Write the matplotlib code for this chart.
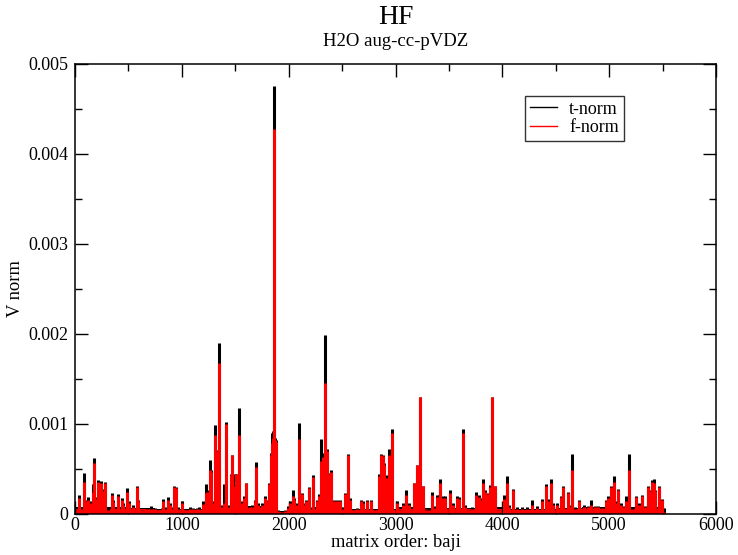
import numpy as np
import matplotlib
matplotlib.use("Agg")
import matplotlib.pyplot as plt
from matplotlib.ticker import MultipleLocator
from matplotlib.lines import Line2D

plt.rcParams['font.family'] = ['Liberation Serif', 'DejaVu Serif']

# spike positions (matrix order index) and heights
spike_x = [37, 60, 84, 103, 125, 150, 172, 181, 196, 212, 228, 243, 258, 281, 312, 343, 359, 399, 437, 452,
           484, 509, 546, 578, 593, 624, 671, 708, 748, 771, 811, 821, 843, 868, 890, 908, 930, 946, 967, 1005,
           1046, 1077, 1108, 1139, 1161, 1202, 1224, 1240, 1264, 1274, 1289, 1311, 1326, 1348, 1373, 1395, 1411, 1430, 1457, 1473,
           1498, 1508, 1539, 1561, 1583, 1598, 1639, 1661, 1686, 1695, 1717, 1755, 1780, 1795, 1820, 1832, 1842, 1851, 1860, 1872,
           1881, 1903, 1935, 1966, 1997, 2013, 2038, 2050, 2075, 2094, 2113, 2128, 2144, 2166, 2191, 2210, 2231, 2250, 2269, 2281,
           2300, 2313, 2325, 2341, 2356, 2381, 2394, 2422, 2453, 2484, 2500, 2528, 2556, 2575, 2606, 2637, 2675, 2700, 2731, 2768,
           2809, 2849, 2865, 2880, 2893, 2912, 2925, 2940, 2971, 3010, 3040, 3070, 3096, 3130, 3160, 3177, 3199, 3214, 3230, 3255,
           3290, 3310, 3345, 3365, 3386, 3405, 3418, 3440, 3468, 3511, 3542, 3574, 3599, 3630, 3655, 3690, 3720, 3751, 3780, 3800,
           3817, 3835, 3860, 3880, 3901, 3932, 3962, 4011, 4042, 4067, 4104, 4135, 4182, 4230, 4276, 4323, 4370, 4407, 4430, 4454,
           4478, 4510, 4550, 4566, 4610, 4630, 4653, 4680, 4713, 4760, 4800, 4831, 4870, 4900, 4935, 4972, 4990, 5016, 5047, 5070,
           5087, 5110, 5135, 5159, 5190, 5215, 5253, 5275, 5306, 5335, 5368, 5383, 5399, 5415, 5430, 5462, 5490, 5515]

t_norm = [0.00021, 0.00008, 0.00046, 0.00016, 0.00019, 0.00014, 0.00033, 0.00062, 0.00019, 0.00038, 0.00018, 0.00037, 0.00028, 0.00036, 0.00007, 0.00023, 0.00016, 0.00022, 0.00018, 0.00012,
          0.00029, 0.00014, 0.00010, 0.00031, 0.00016, 0.00005, 0.00007, 0.00009, 0.00007, 0.00005, 0.00007, 0.00017, 0.00008, 0.00019, 0.00012, 0.00008, 0.00031, 0.00030, 0.00008, 0.00014,
          0.00005, 0.00008, 0.00007, 0.00007, 0.00008, 0.00014, 0.00033, 0.00027, 0.00060, 0.00049, 0.00014, 0.00099, 0.00071, 0.00190, 0.00010, 0.00033, 0.00102, 0.00010, 0.00045, 0.00066,
          0.00045, 0.00045, 0.00118, 0.00014, 0.00020, 0.00034, 0.00009, 0.00010, 0.00016, 0.00058, 0.00012, 0.00012, 0.00020, 0.00016, 0.00034, 0.00068, 0.00090, 0.00092, 0.00475, 0.00084,
          0.00082, 0.00005, 0.00003, 0.00004, 0.00009, 0.00014, 0.00027, 0.00018, 0.00012, 0.00101, 0.00008, 0.00023, 0.00012, 0.00016, 0.00030, 0.00008, 0.00043, 0.00008, 0.00016, 0.00022,
          0.00083, 0.00049, 0.00068, 0.00199, 0.00072, 0.00046, 0.00049, 0.00016, 0.00016, 0.00016, 0.00008, 0.00023, 0.00067, 0.00018, 0.00005, 0.00007, 0.00016, 0.00014, 0.00016, 0.00016,
          0.00005, 0.00044, 0.00067, 0.00066, 0.00057, 0.00043, 0.00016, 0.00072, 0.00094, 0.00014, 0.00005, 0.00012, 0.00027, 0.00012, 0.00005, 0.00034, 0.00055, 0.00034, 0.00130, 0.00031,
          0.00006, 0.00007, 0.00025, 0.00009, 0.00021, 0.00021, 0.00039, 0.00020, 0.00020, 0.00027, 0.00012, 0.00020, 0.00019, 0.00094, 0.00010, 0.00005, 0.00008, 0.00025, 0.00021, 0.00018,
          0.00039, 0.00027, 0.00023, 0.00032, 0.00130, 0.00031, 0.00005, 0.00021, 0.00042, 0.00010, 0.00028, 0.00008, 0.00008, 0.00008, 0.00016, 0.00009, 0.00017, 0.00033, 0.00017, 0.00039,
          0.00012, 0.00012, 0.00020, 0.00031, 0.00025, 0.00010, 0.00067, 0.00008, 0.00016, 0.00010, 0.00009, 0.00016, 0.00009, 0.00009, 0.00008, 0.00016, 0.00020, 0.00031, 0.00042, 0.00014,
          0.00028, 0.00012, 0.00009, 0.00020, 0.00067, 0.00008, 0.00020, 0.00012, 0.00021, 0.00009, 0.00031, 0.00027, 0.00038, 0.00039, 0.00027, 0.00031, 0.00017, 0.00007]

f_norm = [0.00018, 0.00006, 0.00036, 0.00014, 0.00016, 0.00012, 0.00025, 0.00057, 0.00017, 0.00036, 0.00016, 0.00034, 0.00026, 0.00034, 0.00005, 0.00021, 0.00013, 0.00020, 0.00016, 0.00010,
          0.00025, 0.00012, 0.00008, 0.00030, 0.00014, 0.00004, 0.00006, 0.00006, 0.00006, 0.00004, 0.00006, 0.00014, 0.00006, 0.00016, 0.00010, 0.00006, 0.00030, 0.00029, 0.00006, 0.00012,
          0.00004, 0.00006, 0.00006, 0.00006, 0.00006, 0.00011, 0.00023, 0.00025, 0.00049, 0.00047, 0.00012, 0.00088, 0.00070, 0.00168, 0.00008, 0.00012, 0.00100, 0.00008, 0.00043, 0.00066,
          0.00031, 0.00044, 0.00088, 0.00012, 0.00018, 0.00034, 0.00008, 0.00008, 0.00014, 0.00052, 0.00010, 0.00010, 0.00018, 0.00014, 0.00033, 0.00066, 0.00079, 0.00085, 0.00428, 0.00082,
          0.00080, 0.00003, 0.00002, 0.00003, 0.00007, 0.00012, 0.00020, 0.00016, 0.00010, 0.00083, 0.00006, 0.00022, 0.00010, 0.00015, 0.00029, 0.00006, 0.00041, 0.00006, 0.00014, 0.00020,
          0.00059, 0.00047, 0.00063, 0.00146, 0.00070, 0.00044, 0.00047, 0.00014, 0.00014, 0.00014, 0.00006, 0.00022, 0.00066, 0.00016, 0.00004, 0.00006, 0.00014, 0.00012, 0.00015, 0.00014,
          0.00004, 0.00042, 0.00066, 0.00065, 0.00055, 0.00040, 0.00015, 0.00066, 0.00090, 0.00012, 0.00004, 0.00010, 0.00021, 0.00010, 0.00004, 0.00034, 0.00054, 0.00032, 0.00130, 0.00031,
          0.00005, 0.00005, 0.00021, 0.00007, 0.00019, 0.00018, 0.00035, 0.00018, 0.00018, 0.00023, 0.00010, 0.00018, 0.00017, 0.00090, 0.00008, 0.00004, 0.00006, 0.00021, 0.00019, 0.00016,
          0.00035, 0.00025, 0.00022, 0.00030, 0.00130, 0.00031, 0.00004, 0.00017, 0.00034, 0.00008, 0.00027, 0.00006, 0.00006, 0.00006, 0.00010, 0.00007, 0.00015, 0.00031, 0.00015, 0.00034,
          0.00010, 0.00010, 0.00019, 0.00030, 0.00023, 0.00008, 0.00049, 0.00006, 0.00014, 0.00008, 0.00008, 0.00010, 0.00008, 0.00008, 0.00007, 0.00014, 0.00018, 0.00030, 0.00036, 0.00012,
          0.00027, 0.00010, 0.00008, 0.00014, 0.00049, 0.00006, 0.00019, 0.00010, 0.00020, 0.00008, 0.00030, 0.00026, 0.00036, 0.00035, 0.00026, 0.00030, 0.00016, 0.00002]

# dense low-level background band (per bin of matrix order)
floor_edges = [0, 250, 500, 750, 1000, 1250, 1500, 1750, 1900, 2000, 2250, 2500, 2750, 3000, 3250, 3500, 3750, 4000, 4250, 4500, 4750, 5000, 5250, 5500]
t_floor = [0.00008, 0.00008, 0.00007, 0.00006, 0.00005, 0.00009, 0.00009, 0.00009, 0.00003, 0.00007, 0.00008, 0.00006, 0.00005, 0.00008, 0.00007, 0.00007, 0.00008, 0.00006, 0.00006, 0.00007, 0.00008, 0.00008, 0.00008]
f_floor = [0.00006, 0.00006, 0.00005, 0.00004, 0.00004, 0.00007, 0.00007, 0.00007, 0.00002, 0.00005, 0.00006, 0.00004, 0.00004, 0.00006, 0.00005, 0.00005, 0.00006, 0.00004, 0.00004, 0.00005, 0.00006, 0.00006, 0.00006]

fig = plt.figure(figsize=(7.38, 5.55), dpi=100)
ax = fig.add_axes([75/738, 1-514/555, (716-75)/738, (514-64)/555])

ax.fill_between(floor_edges, t_floor + [t_floor[-1]], step='post', color='black', linewidth=0)
ax.fill_between(floor_edges, f_floor + [f_floor[-1]], step='post', color='red', linewidth=0)
ax.vlines(spike_x, 0, t_norm, color='black', linewidth=2.2)
ax.vlines(spike_x, 0, f_norm, color='red', linewidth=2.2)

ax.set_xlim(0, 6000)
ax.set_ylim(0, 0.005)
ax.xaxis.set_major_locator(MultipleLocator(1000))
ax.xaxis.set_minor_locator(MultipleLocator(500))
ax.set_yticks([0, 0.001, 0.002, 0.003, 0.004, 0.005])
ax.set_yticklabels(['0', '0.001', '0.002', '0.003', '0.004', '0.005'])
ax.yaxis.set_minor_locator(MultipleLocator(0.0005))
ax.tick_params(which='both', direction='in', top=True, right=True, labelsize=13, width=1.0)
ax.tick_params(which='major', length=9.5)
ax.tick_params(axis='y', which='major', pad=5)
ax.tick_params(axis='x', which='major', pad=2)
ax.tick_params(which='minor', length=5)
for s in ax.spines.values():
    s.set_linewidth(1.1)

ax.set_xlabel('matrix order: baji', fontsize=13.3, labelpad=0)
ax.set_ylabel('V norm', fontsize=13.3, labelpad=3)

cx = 0.5 * (75 + 716) / 738
fig.text(cx, 1 - 18/555, 'HF', ha='center', va='center', fontsize=20)
fig.text(cx, 1 - 42/555, 'H2O aug-cc-pVDZ', ha='center', va='center', fontsize=13.5)

handles = [Line2D([], [], color='black', lw=1.0), Line2D([], [], color='red', lw=1.0)]
leg = ax.legend(handles, ['t-norm', 'f-norm'], loc='upper left', bbox_to_anchor=((525-75)/641, (514-96)/450),
                fontsize=13, frameon=True, fancybox=False, edgecolor='black', handlelength=1.5,
                handletextpad=0.7, borderpad=0.25, labelspacing=0.1, borderaxespad=0)
leg.get_frame().set_linewidth(1.0)

fig.savefig('out.png', dpi=100)
